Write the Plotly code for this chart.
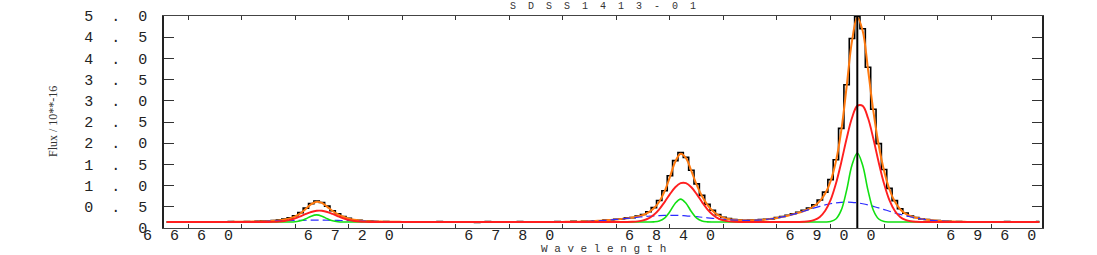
import numpy as np
import plotly.graph_objects as go

# Wavelength grid (Angstrom), 2 A sampling
wave = np.arange(6652, 6980, 2)

# Observed flux (10**-16), histogram
flux = [
    0.142, 0.138, 0.145, 0.136, 0.141, 0.147, 0.139, 0.135, 0.143, 0.140,
    0.146, 0.139, 0.150, 0.142, 0.148, 0.153, 0.149, 0.158, 0.162, 0.170,
    0.176, 0.190, 0.214, 0.238, 0.290, 0.362, 0.468, 0.575, 0.634, 0.602,
    0.515, 0.408, 0.336, 0.270, 0.230, 0.189, 0.181, 0.160, 0.163, 0.150,
    0.148, 0.154, 0.143, 0.139, 0.148, 0.137, 0.144, 0.135, 0.146, 0.141,
    0.138, 0.152, 0.134, 0.143, 0.147, 0.136, 0.141, 0.149, 0.133, 0.144,
    0.150, 0.139, 0.136, 0.146, 0.141, 0.134, 0.152, 0.143, 0.138, 0.147,
    0.136, 0.145, 0.140, 0.151, 0.139, 0.148, 0.156, 0.145, 0.160, 0.154,
    0.171, 0.166, 0.188, 0.183, 0.206, 0.211, 0.238, 0.244, 0.284, 0.318,
    0.385, 0.481, 0.650, 0.880, 1.232, 1.590, 1.780, 1.665, 1.362, 1.040,
    0.770, 0.560, 0.418, 0.316, 0.252, 0.221, 0.197, 0.190, 0.176, 0.186,
    0.180, 0.197, 0.208, 0.215, 0.247, 0.270, 0.301, 0.336, 0.372, 0.420,
    0.470, 0.548, 0.660, 0.845, 1.140, 1.610, 2.350, 3.380, 4.470, 4.990,
    4.700, 3.790, 2.800, 1.990, 1.380, 0.935, 0.645, 0.455, 0.352, 0.282,
    0.248, 0.214, 0.201, 0.178, 0.175, 0.160, 0.158, 0.149, 0.152, 0.141,
    0.146, 0.138, 0.145, 0.139, 0.148, 0.135, 0.143, 0.150, 0.137, 0.144,
    0.139, 0.147, 0.141, 0.152,
]

# Total fit (orange)
fit_total = [
    0.14, 0.14, 0.14, 0.14, 0.14, 0.14, 0.14, 0.14, 0.141, 0.141,
    0.142, 0.143, 0.144, 0.145, 0.147, 0.149, 0.151, 0.154, 0.158, 0.163,
    0.170, 0.180, 0.198, 0.227, 0.274, 0.347, 0.452, 0.563, 0.621, 0.591,
    0.499, 0.401, 0.323, 0.265, 0.222, 0.194, 0.177, 0.166, 0.159, 0.155,
    0.151, 0.149, 0.147, 0.145, 0.144, 0.143, 0.142, 0.141, 0.141, 0.14,
    0.14, 0.14, 0.14, 0.14, 0.14, 0.14, 0.14, 0.14, 0.14, 0.14,
    0.14, 0.14, 0.14, 0.14, 0.14, 0.14, 0.14, 0.14, 0.14, 0.14,
    0.14, 0.141, 0.142, 0.142, 0.144, 0.145, 0.147, 0.150, 0.154, 0.159,
    0.165, 0.172, 0.181, 0.191, 0.202, 0.215, 0.229, 0.246, 0.271, 0.307,
    0.367, 0.464, 0.620, 0.863, 1.205, 1.564, 1.751, 1.648, 1.345, 1.017,
    0.749, 0.547, 0.402, 0.305, 0.246, 0.212, 0.194, 0.185, 0.181, 0.181,
    0.184, 0.191, 0.203, 0.218, 0.238, 0.262, 0.290, 0.323, 0.359, 0.402,
    0.453, 0.524, 0.632, 0.811, 1.101, 1.568, 2.293, 3.322, 4.400, 4.964,
    4.654, 3.744, 2.755, 1.952, 1.351, 0.914, 0.624, 0.443, 0.339, 0.278,
    0.240, 0.215, 0.196, 0.181, 0.170, 0.162, 0.155, 0.151, 0.147, 0.145,
    0.143, 0.142, 0.141, 0.14, 0.14, 0.14, 0.14, 0.14, 0.14, 0.14,
    0.14, 0.14, 0.14, 0.14,
]

# Intermediate-width component + continuum (red)
fit_red = [
    0.14, 0.14, 0.14, 0.14, 0.14, 0.14, 0.14, 0.14, 0.14, 0.14,
    0.14, 0.14, 0.14, 0.14, 0.14, 0.14, 0.14, 0.14, 0.141, 0.142,
    0.145, 0.152, 0.166, 0.190, 0.228, 0.277, 0.331, 0.378, 0.406, 0.406,
    0.378, 0.331, 0.277, 0.228, 0.190, 0.166, 0.152, 0.145, 0.142, 0.141,
    0.14, 0.14, 0.14, 0.14, 0.14, 0.14, 0.14, 0.14, 0.14, 0.14,
    0.14, 0.14, 0.14, 0.14, 0.14, 0.14, 0.14, 0.14, 0.14, 0.14,
    0.14, 0.14, 0.14, 0.14, 0.14, 0.14, 0.14, 0.14, 0.14, 0.14,
    0.14, 0.14, 0.14, 0.14, 0.14, 0.14, 0.14, 0.14, 0.14, 0.14,
    0.14, 0.14, 0.14, 0.14, 0.14, 0.141, 0.142, 0.146, 0.157, 0.181,
    0.229, 0.313, 0.442, 0.611, 0.798, 0.961, 1.057, 1.057, 0.961, 0.798,
    0.611, 0.442, 0.313, 0.229, 0.181, 0.157, 0.146, 0.142, 0.141, 0.14,
    0.14, 0.14, 0.14, 0.14, 0.14, 0.14, 0.14, 0.141, 0.142, 0.146,
    0.158, 0.190, 0.262, 0.406, 0.657, 1.044, 1.547, 2.105, 2.593, 2.881,
    2.881, 2.593, 2.105, 1.547, 1.044, 0.657, 0.406, 0.262, 0.190, 0.158,
    0.146, 0.142, 0.141, 0.14, 0.14, 0.14, 0.14, 0.14, 0.14, 0.14,
    0.14, 0.14, 0.14, 0.14, 0.14, 0.14, 0.14, 0.14, 0.14, 0.14,
    0.14, 0.14, 0.14, 0.14,
]

# Narrow component + continuum (green)
fit_green = [
    0.14, 0.14, 0.14, 0.14, 0.14, 0.14, 0.14, 0.14, 0.14, 0.14,
    0.14, 0.14, 0.14, 0.14, 0.14, 0.14, 0.14, 0.14, 0.14, 0.14,
    0.14, 0.14, 0.14, 0.141, 0.148, 0.169, 0.218, 0.280, 0.310, 0.280,
    0.218, 0.169, 0.148, 0.141, 0.14, 0.14, 0.14, 0.14, 0.14, 0.14,
    0.14, 0.14, 0.14, 0.14, 0.14, 0.14, 0.14, 0.14, 0.14, 0.14,
    0.14, 0.14, 0.14, 0.14, 0.14, 0.14, 0.14, 0.14, 0.14, 0.14,
    0.14, 0.14, 0.14, 0.14, 0.14, 0.14, 0.14, 0.14, 0.14, 0.14,
    0.14, 0.14, 0.14, 0.14, 0.14, 0.14, 0.14, 0.14, 0.14, 0.14,
    0.14, 0.14, 0.14, 0.14, 0.14, 0.14, 0.14, 0.14, 0.14, 0.14,
    0.14, 0.144, 0.164, 0.233, 0.387, 0.584, 0.680, 0.584, 0.387, 0.233,
    0.164, 0.144, 0.14, 0.14, 0.14, 0.14, 0.14, 0.14, 0.14, 0.14,
    0.14, 0.14, 0.14, 0.14, 0.14, 0.14, 0.14, 0.14, 0.14, 0.14,
    0.14, 0.14, 0.14, 0.142, 0.152, 0.212, 0.420, 0.887, 1.481, 1.770,
    1.481, 0.887, 0.420, 0.212, 0.152, 0.142, 0.14, 0.14, 0.14, 0.14,
    0.14, 0.14, 0.14, 0.14, 0.14, 0.14, 0.14, 0.14, 0.14, 0.14,
    0.14, 0.14, 0.14, 0.14, 0.14, 0.14, 0.14, 0.14, 0.14, 0.14,
    0.14, 0.14, 0.14, 0.14,
]

# Broad component + continuum (blue dashed)
fit_blue = [
    0.14, 0.14, 0.14, 0.14, 0.14, 0.14, 0.14, 0.14, 0.141, 0.141,
    0.142, 0.143, 0.144, 0.145, 0.147, 0.149, 0.151, 0.154, 0.157, 0.161,
    0.164, 0.168, 0.172, 0.175, 0.179, 0.181, 0.183, 0.185, 0.185, 0.185,
    0.183, 0.181, 0.179, 0.175, 0.172, 0.168, 0.164, 0.161, 0.157, 0.154,
    0.151, 0.149, 0.147, 0.145, 0.144, 0.143, 0.142, 0.141, 0.141, 0.14,
    0.14, 0.14, 0.14, 0.14, 0.14, 0.14, 0.14, 0.14, 0.14, 0.14,
    0.14, 0.14, 0.14, 0.14, 0.14, 0.14, 0.14, 0.14, 0.14, 0.14,
    0.14, 0.141, 0.142, 0.142, 0.144, 0.145, 0.147, 0.150, 0.154, 0.159,
    0.165, 0.172, 0.181, 0.191, 0.202, 0.214, 0.227, 0.240, 0.254, 0.266,
    0.277, 0.287, 0.294, 0.299, 0.300, 0.299, 0.294, 0.287, 0.277, 0.266,
    0.254, 0.241, 0.228, 0.216, 0.205, 0.195, 0.188, 0.183, 0.180, 0.180,
    0.184, 0.191, 0.203, 0.218, 0.238, 0.262, 0.290, 0.322, 0.358, 0.396,
    0.435, 0.474, 0.510, 0.544, 0.572, 0.593, 0.606, 0.610, 0.606, 0.593,
    0.572, 0.544, 0.510, 0.474, 0.435, 0.396, 0.358, 0.322, 0.289, 0.259,
    0.234, 0.213, 0.196, 0.181, 0.170, 0.162, 0.155, 0.151, 0.147, 0.145,
    0.143, 0.142, 0.141, 0.14, 0.14, 0.14, 0.14, 0.14, 0.14, 0.14,
    0.14, 0.14, 0.14, 0.14,
]

line_center = 6910.0
title_text = "SDSS1413-01"
x_title = "Wavelength"
y_title = "Flux / 10**-16"
x_ticks = [6660, 6720, 6780, 6840, 6900, 6960]
y_ticks = [0, 0.5, 1.0, 1.5, 2.0, 2.5, 3.0, 3.5, 4.0, 4.5, 5.0]

NB = "\u00a0"


def spaced(s, n):
    return (NB * n).join(list(s))


x_ticktext = [spaced(str(v), 2) for v in x_ticks]
y_ticktext = ["0"] + [spaced(f"{v:.1f}", 2) for v in y_ticks[1:]]

fig = go.Figure()
fig.add_trace(go.Scatter(x=wave, y=flux, mode="lines", line_shape="hvh",
                         line=dict(color="black", width=1.6), showlegend=False))
fig.add_trace(go.Scatter(x=wave, y=fit_total, mode="lines", line_shape="spline",
                         line=dict(color="#ff7a10", width=2.0), showlegend=False))
fig.add_trace(go.Scatter(x=wave, y=fit_blue, mode="lines", line_shape="spline",
                         line=dict(color="#2b2bff", width=1.2, dash="8px,4px"),
                         showlegend=False))
fig.add_trace(go.Scatter(x=wave, y=fit_green, mode="lines", line_shape="spline",
                         line=dict(color="#12e012", width=1.6), showlegend=False))
fig.add_trace(go.Scatter(x=wave, y=fit_red, mode="lines", line_shape="spline",
                         line=dict(color="#ff1f1f", width=1.9), showlegend=False))
fig.add_trace(go.Scatter(x=[line_center, line_center], y=[0, 5], mode="lines",
                         line=dict(color="black", width=2), showlegend=False))

tickfont = dict(family="Liberation Mono, DejaVu Sans Mono, monospace", size=15, color="#222")

fig.update_layout(
    width=1097, height=255,
    margin=dict(l=164, r=55, t=16, b=27, autoexpand=False),
    paper_bgcolor="white", plot_bgcolor="white",
    xaxis=dict(range=[6651, 6979], tickmode="array", tickvals=x_ticks, ticktext=x_ticktext,
               ticks="inside", ticklen=4, tickwidth=1, tickcolor="#333",
               showline=True, linecolor="#444", linewidth=1, mirror="ticks",
               showgrid=False, zeroline=False, tickfont=tickfont, ticklabelstandoff=-7,
               automargin=False,
               minor=dict(tickmode="linear", tick0=6660, dtick=20, ticks="inside",
                          ticklen=4, tickcolor="#333", showgrid=False)),
    yaxis=dict(range=[0, 5], tickmode="array", tickvals=y_ticks, ticktext=y_ticktext,
               ticks="inside", ticklen=10, tickwidth=1, tickcolor="#333",
               showline=True, linecolor="#222", linewidth=1.5, mirror="ticks",
               showgrid=False, zeroline=False, tickfont=tickfont, ticklabelstandoff=12,
               automargin=False),
    annotations=[
        dict(text=spaced(title_text, 2), x=0.5, y=1.047, xref="paper", yref="paper",
             xanchor="center", yanchor="middle", showarrow=False,
             font=dict(family="Liberation Mono, monospace", size=10, color="#333")),
        dict(text=spaced(x_title, 1), x=0.5, y=-0.1, xref="paper", yref="paper",
             xanchor="center", yanchor="middle", showarrow=False,
             font=dict(family="Liberation Mono, monospace", size=11, color="#333")),
        dict(text=y_title, x=-0.1264, y=0.5, xref="paper", yref="paper",
             xanchor="center", yanchor="middle", showarrow=False, textangle=-90,
             font=dict(family="Liberation Serif, serif", size=12, color="#333")),
    ],
)

fig.write_html("out.html", config={"displayModeBar": False},
               post_script="document.body.style.margin='0';document.body.style.overflow='hidden';")
